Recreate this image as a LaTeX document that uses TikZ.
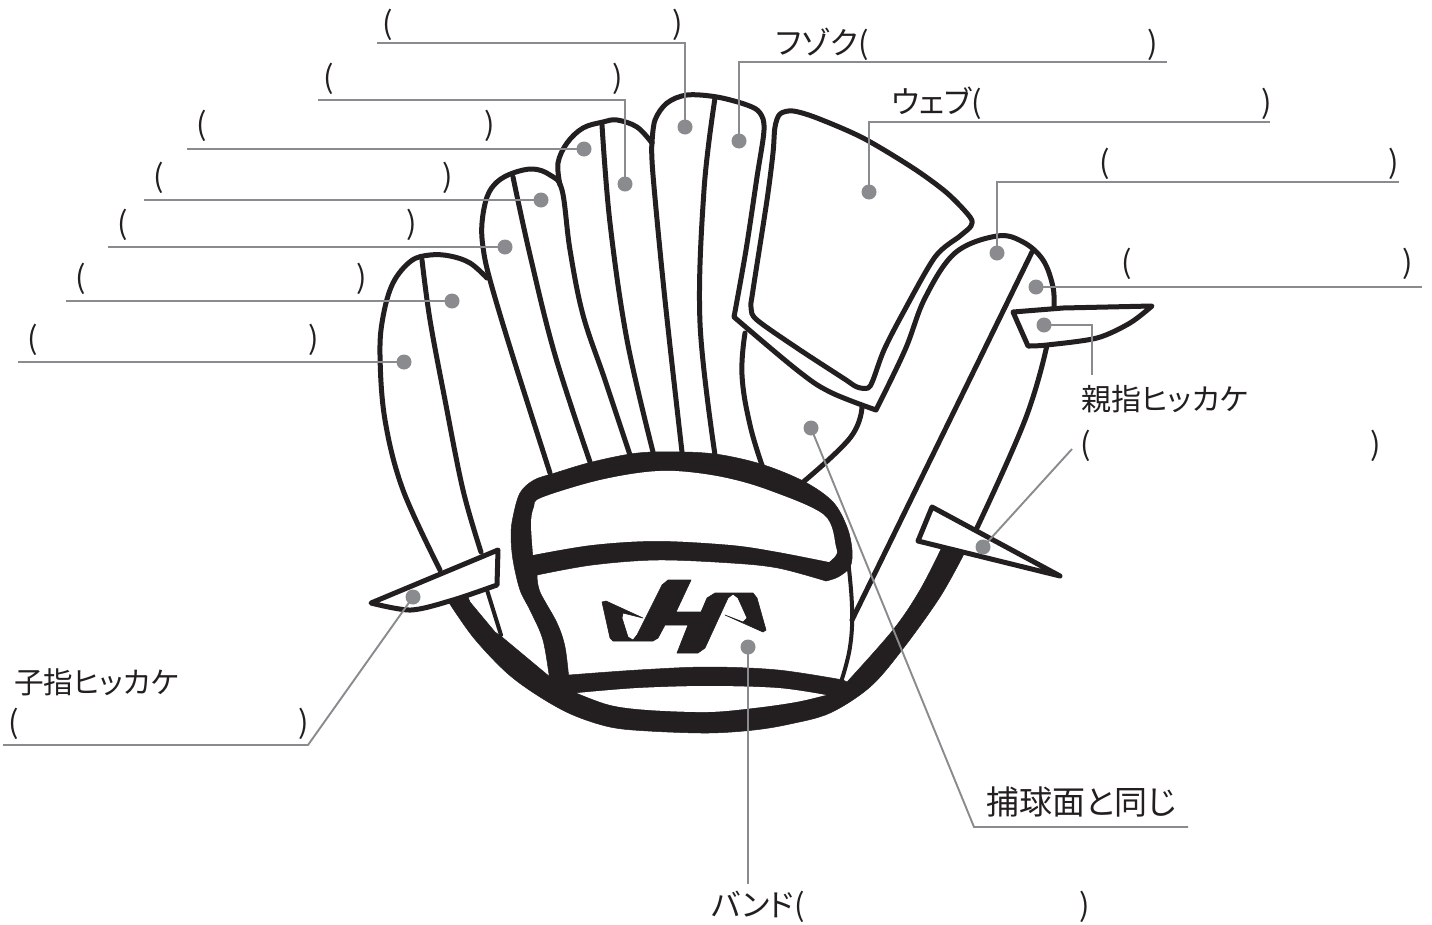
\documentclass[tikz,border=0pt]{standalone}
\usepackage{fontspec}
\newfontfamily\jp[RawFeature=+palt]{Noto Sans CJK JP}
\definecolor{ink}{HTML}{231F20}
\definecolor{lead}{HTML}{8A8B8E}
\tikzset{
  seam/.style={draw=ink,line width=5pt,line cap=round,line join=round},
  leader/.style={draw=lead,line width=1.9pt},
  pin/.style={circle,fill=lead,draw=none,minimum size=15pt,inner sep=0pt},
  lab/.style={anchor=west,inner sep=0pt,text=ink,font=\jp\fontsize{31}{34}\selectfont},
  blk/.style={fill=ink,draw=ink,line width=0.5pt,line join=round},
  wht/.style={fill=white,draw=none},
  hook/.style={fill=white,draw=ink,line width=5pt,line join=round},
}
\newcommand{\plab}[5]{\node[lab] (#1) at (#2,#4) {\makebox[#3pt][s]{#5}};}
\begin{document}
\begin{tikzpicture}[x=1pt,y=-1pt]
\useasboundingbox (0,0) rectangle (1432,924);
\fill[white] (0,0) rectangle (1432,924);

% fingers
\draw[seam] plot[smooth,tension=0.6] coordinates {(487,278)(470,263)(450,256)(430,255)(411,261)(393,283)(383,317)(380,355)(385,420)(403,490)(440,570)};
\draw[seam] plot[smooth,tension=0.6] coordinates {(422,260)(430,320)(445,400)(463,490)(481,552)};
\draw[seam] plot[smooth,tension=0.6] coordinates {(550,473)(513,357)(490,280)(483,247)(482,223)(487,197)(497,182)(513,173)(533,169)(550,175)(562,190)(570,250)(583,315)(605,380)(630,455)};
\draw[seam] plot[smooth,tension=0.6] coordinates {(513,177)(530,255)(555,355)(590,462)};
\draw[seam] plot[smooth,tension=0.6] coordinates {(560,185)(558,163)(567,143)(583,128)(603,122)(617,120)(637,127)(652,143)};
\draw[seam] plot[smooth,tension=0.6] coordinates {(652,143)(653,175)(665,300)(682,452)};
\draw[seam] plot[smooth,tension=0.6] coordinates {(602,125)(610,223)(627,340)(653,452)};
\draw[seam] plot[smooth,tension=0.6] coordinates {(715,98)(704,190)(700,323)(715,455)};
% palm
\draw[seam] plot[smooth,tension=0.7] coordinates {(745,333)(742,375)(750,425)(763,468)};
\draw[seam] plot[smooth,tension=0.7] coordinates {(862,407)(850,438)(802,483)};
% index outer, web surround, thumb
\draw[seam] plot[smooth,tension=0.55] coordinates {(652,143)(655,120)(667,103)(687,95)(717,97)(747,105)(760,113)(764,130)(757,177)(746,250)(734,317)}
  -- plot[smooth,tension=0.6] coordinates {(734,317)(797,370)(830,392)(876,410)}
  -- plot[smooth,tension=0.6] coordinates {(876,410)(905,350)(925,298)(955,253)(997,236)(1023,242)(1043,260)(1053,287)(1054,310)};
% web
\draw[seam] plot[smooth cycle,tension=0.5] coordinates {(775,127)(780,114)(793,111)(817,118)(863,138)(913,168)(947,193)(970,217)(971,226)(960,236)(935,257)(903,313)(884,350)(873,380)(868,388)(857,387)(843,378)(797,348)(757,320)(751,308)(753,290)(767,200)(773,153)};
% thumb
\draw[seam] (1032,252) -- (852,620);
\draw[seam] plot[smooth,tension=0.7] coordinates {(1047,345)(1025,420)(975,532)};
% lower-left small line
\draw[seam,line width=4pt] (487,590) -- (501,635);
% cuff right thin
\draw[seam,line width=4pt] plot[smooth,tension=0.7] coordinates {(848,560)(852,607)(850,647)(841,682)};

% pocket
\path[blk] plot[smooth,tension=0.55] coordinates {(446,598)(473,637)(507,673)(540,697)(573,715)(610,727)(648,731)(708,733)(754,730)(790,724)(830,713)(870,687)(902,650)(940,597)(965,552)}
  -- plot[smooth,tension=0.55] coordinates {(943,545)(920,590)(893,630)(847,682)}
  -- plot[smooth,tension=0.55] coordinates {(843,680)(778,670)(708,667)(638,670)(569,675)}
  -- (550,677) -- (502,637) -- (495,632) -- (470,602) -- (465,590) -- cycle;
\path[wht] plot[smooth,tension=0.55] coordinates {(577,693)(610,705)(648,710)(708,712)(754,708)(796,702)(826,695)}
  -- plot[smooth,tension=0.55] coordinates {(826,695)(778,688)(708,686)(638,688)(577,693)} -- cycle;

% cuff band
\path[blk] plot[smooth,tension=0.55] coordinates {(550,682)(543,640)(530,610)(520,590)(513,560)(511,535)(513,517)(520,493)(534,480)(555,473)(592,462)(638,453)(685,452)(722,455)(764,465)(805,482)(833,502)(847,527)(852,550)(850,567)(838,577)(826,581)}
  -- plot[smooth,tension=0.55] coordinates {(826,581)(778,568)(731,563)(657,560)(592,565)(537,575)}
  -- plot[smooth,tension=0.55] coordinates {(537,575)(540,592)(557,623)(565,647)(569,680)} -- cycle;
\path[wht] plot[smooth,tension=0.55] coordinates {(533,555)(531,523)(534,507)(541,498)(592,482)(638,473)(675,471)(722,477)(768,490)(824,515)(836,547)(836,555)(829,562)}
  -- plot[smooth,tension=0.55] coordinates {(829,562)(778,552)(731,545)(657,541)(592,545)(533,555)} -- cycle;

% logo
\fill[ink,draw=ink,line width=0.6pt,line join=round] (602,602) -- (606,601) -- (643,618) -- (623,613) -- (622,618) -- (628,637) -- (633,640) -- (637,635) -- (662,585) -- (668,580) -- (691,580) -- (676,612) -- (701,612) -- (707,598) -- (715,593) -- (753,593) -- (757,598) -- (766,630) -- (763,632) -- (725,615) -- (743,622) -- (747,618) -- (738,598) -- (733,594) -- (728,598) -- (705,648) -- (698,653) -- (677,653) -- (688,625) -- (665,625) -- (658,638) -- (653,641) -- (613,641) -- (610,638) -- cycle;

% hitches
\path[hook] plot[smooth,tension=0.5] coordinates {(371,603)(411,610)(453,600)(497,585)} -- (498,550) -- cycle;
\path[hook] (932,507) -- (918,541) -- (1060,576) -- cycle;
\path[hook] (1013,312) -- (1063,308) -- (1152,306) -- plot[smooth,tension=0.5] coordinates {(1152,306)(1130,323)(1097,338)(1047,345)(1028,346)} -- cycle;

% pins
\node[pin] (d1) at (685,127) {};
\node[pin] (d2) at (625,184) {};
\node[pin] (d3) at (584,149) {};
\node[pin] (d4) at (541,200) {};
\node[pin] (d5) at (505,247) {};
\node[pin] (d6) at (452,301) {};
\node[pin] (d7) at (404,362) {};
\node[pin] (d8) at (739,141) {};
\node[pin] (d9) at (869,192) {};
\node[pin] (d10) at (997,253) {};
\node[pin] (d11) at (1036,287) {};
\node[pin] (d12) at (1044,325) {};
\node[pin] (d13) at (983,547) {};
\node[pin] (d14) at (811,428) {};
\node[pin] (d15) at (748,647) {};
\node[pin] (d16) at (413,597) {};

% free ends
\coordinate (e1) at (377,43);
\coordinate (e2) at (318,100);
\coordinate (e3) at (187,149);
\coordinate (e4) at (144,200);
\coordinate (e5) at (108,247);
\coordinate (e6) at (66,301);
\coordinate (e7) at (18,362);
\coordinate (e8) at (1167,62);
\coordinate (e9) at (1270,122);
\coordinate (e10) at (1399,182);
\coordinate (e11) at (1422,287);
\coordinate (e12) at (1092,375);
\coordinate (e13) at (1072,449);
\coordinate (k14) at (974,827);
\coordinate (e14) at (1188,827);
\coordinate (e15) at (748,884);
\coordinate (k16) at (308,745);
\coordinate (e16) at (3,745);

\draw[leader] (d1.center) |- (e1);
\draw[leader] (d2.center) |- (e2);
\draw[leader] (d3.center) -- (e3);
\draw[leader] (d4.center) -- (e4);
\draw[leader] (d5.center) -- (e5);
\draw[leader] (d6.center) -- (e6);
\draw[leader] (d7.center) -- (e7);
\draw[leader] (d8.center) |- (e8);
\draw[leader] (d9.center) |- (e9);
\draw[leader] (d10.center) |- (e10);
\draw[leader] (d11.center) -- (e11);
\draw[leader] (d12.center) -| (e12);
\draw[leader] (d13.center) -- (e13);
\draw[leader] (d14.center) -- (k14) -- (e14);
\draw[leader] (d15.center) -- (e15);
\draw[leader] (d16.center) -- (k16) -- (e16);

% labels
\plab{t1}{382}{301}{25}{(\hfill)}
\plab{t2}{323}{300}{79}{(\hfill)}
\plab{t3}{196}{299}{126}{(\hfill)}
\plab{t4}{153}{300}{178}{(\hfill)}
\plab{t5}{117}{300}{225}{(\hfill)}
\plab{t6}{75}{292}{279}{(\hfill)}
\plab{t7}{27}{292}{340}{(\hfill)}
\plab{t8}{776}{382}{44}{フゾク(\hfill)}
\plab{t9}{891}{381}{103}{ウェブ(\hfill)}
\plab{t10}{1099}{300}{164}{(\hfill)}
\plab{t11}{1121}{292}{264}{(\hfill)}
\plab{t12}{8}{301}{724}{(\hfill)}
\plab{t13}{1080}{301}{446}{(\hfill)}
\plab{t14}{711}{379}{907}{バンド(\hfill)}
\node[lab,font=\jp\fontsize{30}{34}\selectfont] (t15) at (1081,399) {親指ヒッカケ};
\node[lab,font=\jp\fontsize{29.6}{34}\selectfont] (t16) at (14,682) {子指ヒッカケ};
\node[lab,font=\jp\fontsize{33}{36}\selectfont] (t17) at (986,802) {捕球面と同じ};
\end{tikzpicture}
\end{document}
